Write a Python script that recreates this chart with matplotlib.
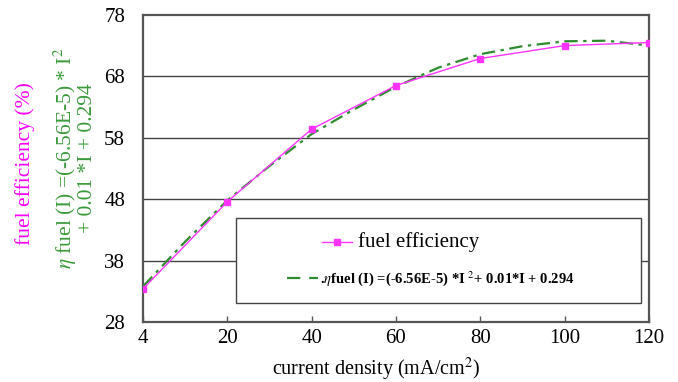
import matplotlib
matplotlib.use('Agg')
import matplotlib.pyplot as plt
from matplotlib.lines import Line2D
from matplotlib.patches import Rectangle

plt.rcParams['font.family'] = ['Liberation Serif', 'DejaVu Serif']
plt.rcParams['mathtext.fontset'] = 'stix'

# data (x axis is categorical, evenly spaced)
current = ['4', '20', '40', '60', '80', '100', '120']
efficiency = [33.4, 47.6, 59.4, 66.5, 70.9, 73.0, 73.5]

# fitted trendline read at half-category steps
fit_pos = [0, 0.5, 1, 1.5, 2, 2.5, 3, 3.5, 4, 4.5, 5, 5.5, 6]
fit_val = [33.8, 41.1, 47.8, 53.4, 58.6, 62.6, 66.3, 69.4, 71.6, 72.9, 73.7, 73.8, 73.0]

yticks = [28, 38, 48, 58, 68, 78]

pink = '#ff33ff'
green = '#2e8b2e'
spine_col = '#555555'

fig = plt.figure(figsize=(6.78, 3.82), dpi=100)
ax = fig.add_axes([0.211, 0.157, 0.746, 0.804])

pos = list(range(len(current)))
ax.plot(fit_pos, fit_val, color=green, lw=1.6, dashes=[6, 2.5, 1.5, 2.5], zorder=3)
ax.plot(pos, efficiency, color=pink, lw=1.0, marker='s', markersize=4, zorder=4)

ax.set_xlim(0, 6)
ax.set_ylim(28, 78)
ax.set_xticks(pos)
ax.set_xticklabels(current)
ax.set_yticks(yticks)
ax.tick_params(axis='x', direction='in', length=4, width=1, color=spine_col, labelsize=15, pad=5)
ax.tick_params(axis='y', length=0, labelsize=15, pad=13)

for y in yticks[1:-1]:
    ax.axhline(y, color='#444444', lw=1.0, zorder=1)

for s in ax.spines.values():
    s.set_color(spine_col)
    s.set_linewidth(1.6)

fig.text(0.555, 0.033, 'current density (mA/cm$^2$)', fontsize=14.5,
         ha='center', va='center')

# y axis labels
fig.text(0.037, 0.573, 'fuel efficiency (%)', rotation=90, color='#ff00ff',
         fontsize=15.5, ha='center', va='center')
fig.text(0.110, 0.585, '$\\eta$ fuel (I) =(-6.56E-5) * I$^2$\n+ 0.01 *I + 0.294',
         rotation=90, color='#3a9a3a', fontsize=15.5, ha='center', va='center',
         multialignment='center', linespacing=0.95)

# legend box drawn by hand so that rows can be centred
ax.add_patch(Rectangle((0.184, 0.062), 0.80, 0.277, transform=ax.transAxes,
                       facecolor='white', edgecolor='#444444', lw=1.0, zorder=5))
ax.add_line(Line2D([0.354, 0.384, 0.413], [0.262, 0.262, 0.262], transform=ax.transAxes,
                   color=pink, lw=1.0, marker='s', markersize=4, markevery=[1],
                   zorder=6))
ax.text(0.425, 0.262, 'fuel efficiency', transform=ax.transAxes, fontsize=15,
        va='center', ha='left', zorder=6)
ax.add_line(Line2D([0.285, 0.345], [0.142, 0.142], transform=ax.transAxes,
                   color=green, lw=1.6, dashes=[6, 4], zorder=6))
ax.text(0.350, 0.142, '.$\\eta$fuel (I) =(-6.56E-5) *I $^2$+ 0.01*I + 0.294',
        transform=ax.transAxes, fontsize=10.5, fontweight='bold',
        va='center', ha='left', zorder=6)

fig.savefig('out.png', dpi=100)
